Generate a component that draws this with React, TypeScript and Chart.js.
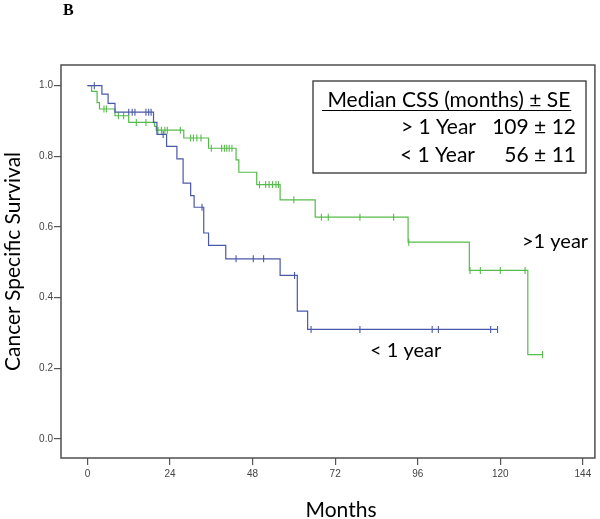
import React, { useEffect, useRef } from "react";
import { Chart, registerables } from "chart.js";

Chart.register(...registerables);

// ---- data ----
const X_TICKS = [0, 24, 48, 72, 96, 120, 144];
const Y_TICKS = [0, 0.2, 0.4, 0.6, 0.8, 1.0];
const X_MIN = -7.69;
const X_MAX = 147.5;
const Y_MIN = -0.0538;
const Y_MAX = 1.0586;

// "< 1 year" group (blue)
const BLUE_EVENT_TIMES = [0, 4.2, 6, 8, 19.2, 20.2, 23, 26, 27.8, 30, 31, 33.8, 35.2, 40.2, 56, 61, 64];
const BLUE_SURVIVAL = [1, 0.976, 0.95, 0.925, 0.896, 0.862, 0.828, 0.793, 0.724, 0.689, 0.656, 0.583, 0.548, 0.51, 0.463, 0.362, 0.31];
const BLUE_CENSOR_TIMES = [2, 12, 13, 13.8, 17, 17.8, 18.5, 22, 33.3, 43.2, 48.2, 51.2, 60.2, 65, 79.2, 100.2, 102, 117.2, 119.2];

// "> 1 year" group (green)
const GREEN_EVENT_TIMES = [0, 1.2, 2.8, 3.5, 8, 12, 19.5, 20, 28, 35.2, 43.2, 44, 49.2, 56, 66.2, 93.2, 111, 128];
const GREEN_SURVIVAL = [1, 0.984, 0.952, 0.934, 0.915, 0.896, 0.885, 0.874, 0.852, 0.823, 0.79, 0.755, 0.72, 0.677, 0.628, 0.557, 0.477, 0.239];
const GREEN_CENSOR_TIMES = [4.8, 5.5, 9, 10.5, 14.2, 17, 20.5, 21.5, 22.5, 23.2, 27, 30, 30.8, 31.8, 33, 36, 39, 39.8, 40.5, 41.2, 42, 50, 51.8, 52.8, 53.8, 54.8, 55.5, 60, 68, 70, 79.2, 89, 93.4, 111.2, 114.2, 120, 127.2, 132.3];

const X_TITLE = "Months";
const Y_TITLE = "Cancer Specific Survival";
const LEGEND_TITLE = " Median CSS (months) \u00b1 SE";
const GROUP_LABELS = ["> 1 Year", "< 1 Year"];
const MEDIAN_TEXTS = ["109 \u00b1 12", "56 \u00b1 11"];
const CURVE_LABELS = [">1 year", "< 1 year"];

const BLUE = "#4a58a8";
const GREEN = "#55bb4a";
const FONT = "Lato, 'Open Sans', sans-serif";

function survivalAt(times: number[], surv: number[], t: number) {
  let s = surv[0];
  for (let i = 0; i < times.length; i++) if (times[i] <= t) s = surv[i];
  return s;
}

function stepData(times: number[], surv: number[], censors: number[]) {
  const pts = times.map((t, i) => ({ x: t, y: surv[i] }));
  const lastC = Math.max(...censors);
  if (lastC > times[times.length - 1]) pts.push({ x: lastC, y: surv[surv.length - 1] });
  return pts;
}

function censorData(times: number[], surv: number[], censors: number[]) {
  return censors.map((t) => ({ x: t, y: survivalAt(times, surv, t) }));
}

const decorPlugin = {
  id: "decor",
  afterDraw(chart: any) {
    const { ctx, chartArea: a } = chart;
    ctx.save();
    // frame
    ctx.strokeStyle = "#4f4f4f";
    ctx.lineWidth = 1.5;
    ctx.strokeRect(a.left, a.top, a.right - a.left, a.bottom - a.top);

    // panel letter
    ctx.fillStyle = "#000";
    ctx.font = "bold 16px 'Liberation Serif', 'Times New Roman', serif";
    ctx.textAlign = "left";
    ctx.textBaseline = "alphabetic";
    ctx.fillText("B", 63, 14.5);

    // x axis title
    ctx.font = "21px " + FONT;
    ctx.textAlign = "center";
    ctx.textBaseline = "middle";
    ctx.fillText(X_TITLE, 341, 510);
    ctx.textBaseline = "alphabetic";

    // legend box
    ctx.fillStyle = "#fff";
    ctx.fillRect(313, 81, 273, 92);
    ctx.strokeStyle = "#333";
    ctx.lineWidth = 1.3;
    ctx.strokeRect(313, 81, 273, 92);
    ctx.fillStyle = "#000";
    ctx.font = "21px " + FONT;
    ctx.textAlign = "left";
    ctx.fillText(LEGEND_TITLE, 322, 107);
    const w = ctx.measureText(LEGEND_TITLE).width;
    ctx.beginPath();
    ctx.lineWidth = 1.2;
    ctx.strokeStyle = "#000";
    ctx.moveTo(322, 110.5);
    ctx.lineTo(Math.min(322 + w + 1, 574), 110.5);
    ctx.stroke();
    ctx.textAlign = "right";
    ctx.fillText(GROUP_LABELS[0], 476, 134);
    ctx.fillText(MEDIAN_TEXTS[0], 576, 134);
    ctx.fillText(GROUP_LABELS[1], 475, 161.5);
    ctx.fillText(MEDIAN_TEXTS[1], 576, 161.5);

    // curve labels
    ctx.textAlign = "left";
    ctx.font = "20px " + FONT;
    ctx.fillText(CURVE_LABELS[0], 522, 247.5);
    ctx.fillText(CURVE_LABELS[1], 370, 357);
    ctx.restore();
  },
};

export default function App() {
  const ref = useRef<HTMLCanvasElement | null>(null);
  useEffect(() => {
    if (!ref.current) return;
    const chart = new Chart(ref.current, {
      type: "line",
      data: {
        datasets: [
          {
            label: "< 1 year",
            data: stepData(BLUE_EVENT_TIMES, BLUE_SURVIVAL, BLUE_CENSOR_TIMES),
            stepped: "before",
            borderColor: BLUE,
            borderWidth: 1.2,
            pointRadius: 0,
            fill: false,
          },
          {
            label: "> 1 year",
            data: stepData(GREEN_EVENT_TIMES, GREEN_SURVIVAL, GREEN_CENSOR_TIMES),
            stepped: "before",
            borderColor: GREEN,
            borderWidth: 1.2,
            pointRadius: 0,
            fill: false,
          },
          {
            label: "< 1 year censored",
            type: "scatter",
            data: censorData(BLUE_EVENT_TIMES, BLUE_SURVIVAL, BLUE_CENSOR_TIMES),
            pointStyle: "line",
            rotation: 90,
            pointRadius: 3.5,
            borderColor: BLUE,
            borderWidth: 1.1,
            showLine: false,
          },
          {
            label: "> 1 year censored",
            type: "scatter",
            data: censorData(GREEN_EVENT_TIMES, GREEN_SURVIVAL, GREEN_CENSOR_TIMES),
            pointStyle: "line",
            rotation: 90,
            pointRadius: 3.5,
            borderColor: GREEN,
            borderWidth: 1.1,
            showLine: false,
          },
        ] as any,
      },
      options: {
        animation: false,
        responsive: false,
        events: [],
        layout: { padding: { left: 0, top: 65, right: 4, bottom: 0 } },
        plugins: { legend: { display: false }, tooltip: { enabled: false } },
        scales: {
          x: {
            type: "linear",
            min: X_MIN,
            max: X_MAX,
            afterBuildTicks: (s: any) => {
              s.ticks = X_TICKS.map((v) => ({ value: v }));
            },
            afterFit: (s: any) => {
              s.height = 61;
            },
            grid: { drawOnChartArea: false, drawTicks: true, tickLength: 7, color: "#555", lineWidth: 1.2 },
            border: { display: false },
            ticks: {
              font: { family: "'Liberation Sans', Arial, sans-serif", size: 10 },
              color: "#444",
              padding: 3,
              maxRotation: 0,
              autoSkip: false,
              callback: (v: any) => String(v),
            },
            title: { display: false },
          },
          y: {
            type: "linear",
            min: Y_MIN,
            max: Y_MAX,
            afterBuildTicks: (s: any) => {
              s.ticks = Y_TICKS.map((v) => ({ value: v }));
            },
            afterFit: (s: any) => {
              s.width = 61;
            },
            grid: { drawOnChartArea: false, drawTicks: true, tickLength: 7, color: "#555", lineWidth: 1.2 },
            border: { display: false },
            ticks: {
              font: { family: "'Liberation Sans', Arial, sans-serif", size: 10 },
              color: "#444",
              padding: 1,
              callback: (v: any) => Number(v).toFixed(1),
            },
            title: {
              display: true,
              text: Y_TITLE,
              color: "#000",
              font: { family: FONT, size: 21, lineHeight: 1.2 },
              padding: { top: 1, bottom: 0 },
            },
          },
        },
      } as any,
      plugins: [decorPlugin],
    });
    return () => chart.destroy();
  }, []);

  return (
    <div style={{ position: "absolute", left: 0, top: 0, width: 600, height: 519, background: "#fff" }}>
      <canvas ref={ref} width={600} height={519} style={{ display: "block" }} />
    </div>
  );
}
